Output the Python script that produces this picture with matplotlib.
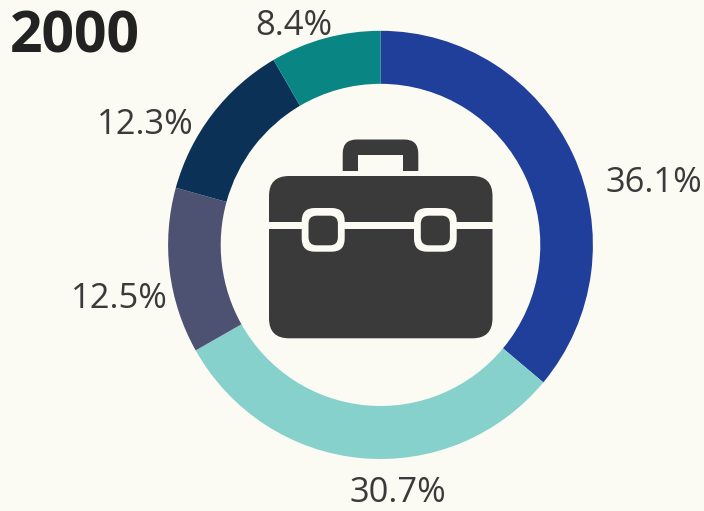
import matplotlib
matplotlib.use("Agg")
import matplotlib.pyplot as plt
from matplotlib.patches import FancyBboxPatch, Rectangle
from matplotlib.transforms import Affine2D

values = [36.1, 30.7, 12.5, 12.3, 8.4]
labels = ["36.1%", "30.7%", "12.5%", "12.3%", "8.4%"]
colors = ["#203F9A", "#86D1CB", "#4E5272", "#0B3256", "#098583"]
title = "2000"
BG = "#FBFBF3"
DARK = "#3A3A3A"

W, H = 704, 511
plt.rcParams['font.family'] = ['Open Sans', 'DejaVu Sans']
fig = plt.figure(figsize=(W/100, H/100), dpi=100, facecolor=BG)
ax = fig.add_axes([0, 0, 1, 1])


def Y(y):
    return H - y


def rrect(x0, y0, x1, y1, r, **kw):
    ax.add_patch(FancyBboxPatch((x0, Y(y1)), x1 - x0, y1 - y0,
                                boxstyle=f"round,pad=0,rounding_size={r}", ec="none", **kw))


def rect(x0, y0, x1, y1, **kw):
    ax.add_patch(Rectangle((x0, Y(y1)), x1 - x0, y1 - y0, ec="none", **kw))


cx, cy = 380.5, Y(244.9)
wedges, _ = ax.pie(values, colors=colors, startangle=90, counterclock=False,
                   center=(cx, cy), radius=212.4, frame=False,
                   wedgeprops=dict(width=52.6, linewidth=0))
ax.set_xlim(0, W); ax.set_ylim(0, H); ax.set_aspect("equal"); ax.axis("off")
stretch = Affine2D().translate(-cx, -cy).scale(1, 1.008).translate(cx, cy)
for w in wedges:
    w.set_transform(stretch + ax.transData)

pos = [(653.5, 192.3), (397.5, 502.5), (119, 308.5), (145, 133.5), (294, 35)]
for (x, y), s in zip(pos, labels):
    ax.text(x, Y(y), s, ha="center", va="baseline", fontsize=24.8, color=DARK)
ax.text(9.5, Y(52.5), title, ha="left", va="baseline", fontsize=41, fontweight="bold", color="#222222")

# briefcase icon
rrect(342.7, 139.5, 418.3, 190, 14, fc=DARK)
rect(357.7, 155, 403.3, 171, fc=BG)
rect(340, 171, 420, 176, fc=BG)
rrect(269, 176, 492.5, 338.3, 20, fc=DARK)
rect(269, 222, 492.5, 229, fc=BG)
for x0, x1 in ((301.7, 344.7), (414, 456.7)):
    rrect(x0, 208, x1, 251.7, 13, fc=BG)
    rrect(x0 + 6.8, 215.7, x1 - 6.8, 245.3, 8, fc=DARK)

fig.savefig("out.png", dpi=100, facecolor=BG)
